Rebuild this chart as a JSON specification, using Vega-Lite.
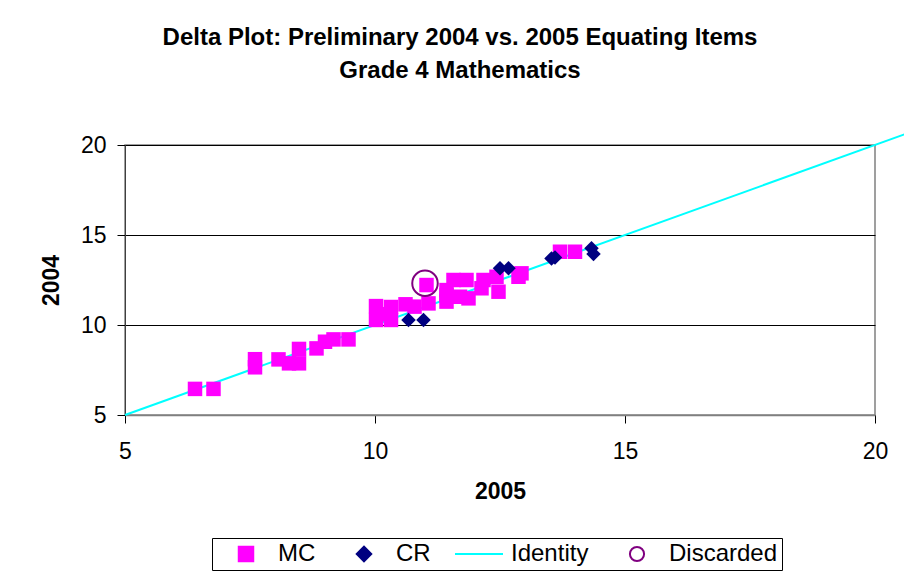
{
  "$schema": "https://vega.github.io/schema/vega-lite/v6.json",
  "width": 750,
  "height": 270,
  "autosize": {"type": "none"},
  "padding": {"left": 125, "top": 145, "right": 29, "bottom": 169},
  "background": "white",
  "config": {
    "font": "Liberation Sans",
    "view": {"stroke": "#808080", "strokeWidth": 1.5},
    "axis": {"labelFont": "Liberation Sans", "titleFont": "Liberation Sans", "labelColor": "black", "titleColor": "black"}
  },
  "title": {
    "text": ["Delta Plot: Preliminary 2004 vs. 2005 Equating Items", "Grade 4 Mathematics"],
    "fontSize": 24,
    "fontWeight": "bold",
    "font": "Liberation Sans",
    "color": "black",
    "lineHeight": 33,
    "anchor": "middle",
    "dx": -40,
    "offset": 47
  },
  "data": {
    "values": [
      {"x2005": 6.4, "y2004": 6.45, "type": "MC"},
      {"x2005": 6.77, "y2004": 6.45, "type": "MC"},
      {"x2005": 7.6, "y2004": 8.1, "type": "MC"},
      {"x2005": 7.6, "y2004": 7.65, "type": "MC"},
      {"x2005": 8.07, "y2004": 8.09, "type": "MC"},
      {"x2005": 8.28, "y2004": 7.87, "type": "MC"},
      {"x2005": 8.48, "y2004": 8.67, "type": "MC"},
      {"x2005": 8.48, "y2004": 7.87, "type": "MC"},
      {"x2005": 8.83, "y2004": 8.7, "type": "MC"},
      {"x2005": 9.0, "y2004": 9.07, "type": "MC"},
      {"x2005": 9.17, "y2004": 9.2, "type": "MC"},
      {"x2005": 9.47, "y2004": 9.2, "type": "MC"},
      {"x2005": 10.02, "y2004": 11.05, "type": "MC"},
      {"x2005": 10.02, "y2004": 10.28, "type": "MC"},
      {"x2005": 10.32, "y2004": 11.0, "type": "MC"},
      {"x2005": 10.32, "y2004": 10.28, "type": "MC"},
      {"x2005": 10.2, "y2004": 10.6, "type": "MC"},
      {"x2005": 10.61, "y2004": 11.15, "type": "MC"},
      {"x2005": 10.79, "y2004": 11.02, "type": "MC"},
      {"x2005": 11.03, "y2004": 12.22, "type": "MC"},
      {"x2005": 11.07, "y2004": 11.2, "type": "MC"},
      {"x2005": 11.43, "y2004": 11.94, "type": "MC"},
      {"x2005": 11.43, "y2004": 11.3, "type": "MC"},
      {"x2005": 11.57, "y2004": 12.5, "type": "MC"},
      {"x2005": 11.83, "y2004": 12.5, "type": "MC"},
      {"x2005": 11.43, "y2004": 11.67, "type": "MC"},
      {"x2005": 11.7, "y2004": 11.57, "type": "MC"},
      {"x2005": 11.87, "y2004": 11.48, "type": "MC"},
      {"x2005": 12.17, "y2004": 12.5, "type": "MC"},
      {"x2005": 12.47, "y2004": 11.85, "type": "MC"},
      {"x2005": 12.43, "y2004": 12.68, "type": "MC"},
      {"x2005": 12.13, "y2004": 12.04, "type": "MC"},
      {"x2005": 12.87, "y2004": 12.68, "type": "MC"},
      {"x2005": 12.93, "y2004": 12.87, "type": "MC"},
      {"x2005": 13.7, "y2004": 14.07, "type": "MC"},
      {"x2005": 14.0, "y2004": 14.07, "type": "MC"},
      {"x2005": 10.67, "y2004": 10.28, "type": "CR"},
      {"x2005": 10.97, "y2004": 10.28, "type": "CR"},
      {"x2005": 12.5, "y2004": 13.15, "type": "CR"},
      {"x2005": 12.67, "y2004": 13.15, "type": "CR"},
      {"x2005": 13.53, "y2004": 13.7, "type": "CR"},
      {"x2005": 13.6, "y2004": 13.75, "type": "CR"},
      {"x2005": 14.33, "y2004": 14.26, "type": "CR"},
      {"x2005": 14.37, "y2004": 13.95, "type": "CR"},
      {"x2005": 11.0, "y2004": 12.32, "type": "Discarded"},
      {"x2005": 5, "y2004": 5, "type": "Identity"},
      {"x2005": 20.6, "y2004": 20.6, "type": "Identity"}
    ]
  },
  "encoding": {
    "x": {
      "field": "x2005", "type": "quantitative", "title": "2005",
      "scale": {"domain": [5, 20], "nice": false, "zero": false},
      "axis": {"values": [5, 10, 15, 20], "grid": false, "labelFontSize": 23, "titleFontSize": 23, "titleFontWeight": "bold", "tickSize": 8, "tickColor": "black", "domainColor": "#808080", "domainWidth": 1.5, "labelPadding": 17, "titlePadding": 17, "labelFlush": false}
    },
    "y": {
      "field": "y2004", "type": "quantitative", "title": "2004",
      "scale": {"domain": [5, 20], "nice": false, "zero": false},
      "axis": {"values": [5, 10, 15, 20], "grid": true, "gridColor": "black", "gridWidth": 1, "gridOpacity": 1, "labelFontSize": 23, "titleFontSize": 23, "titleFontWeight": "bold", "tickSize": 8, "tickColor": "black", "domainColor": "#404040", "labelPadding": 11, "titlePadding": 17, "labelFlush": false}
    },
    "color": {
      "field": "type", "type": "nominal", "title": null,
      "scale": {"domain": ["MC", "CR", "Identity", "Discarded"], "range": ["#FF00FF", "#000080", "#00FFFF", "#800080"]},
      "legend": {
        "orient": "none", "legendX": 87, "legendY": 393,
        "direction": "horizontal", "columns": 4,
        "strokeColor": "black", "fillColor": "white", "padding": 4,
        "labelFontSize": 24, "labelFont": "Liberation Sans", "labelColor": "black",
        "symbolSize": 1024, "symbolOffset": 18, "labelOffset": 20, "columnPadding": 18, "symbolOpacity": 1,
        "encode": {
          "symbols": {
            "update": {
              "fill": {"signal": "datum.value === 'MC' ? '#FF00FF' : datum.value === 'CR' ? '#000080' : 'white'"},
              "fillOpacity": {"signal": "datum.value === 'MC' || datum.value === 'CR' ? 1 : 0"},
              "stroke": {"signal": "datum.value === 'Identity' ? '#00FFFF' : datum.value === 'Discarded' ? '#800080' : 'transparent'"},
              "strokeWidth": {"value": 2},
              "opacity": {"value": 1},
              "size": {"signal": "datum.value === 'Identity' ? 2304 : datum.value === 'Discarded' ? 200 : 210"},
              "shape": {"signal": "datum.value === 'MC' ? 'square' : datum.value === 'CR' ? 'diamond' : datum.value === 'Identity' ? 'stroke' : 'circle'"}
            }
          }
        }
      }
    }
  },
  "layer": [
    {
      "transform": [{"filter": "datum.type === 'Identity'"}],
      "mark": {"type": "line", "strokeWidth": 2, "clip": false}
    },
    {
      "transform": [{"filter": "datum.type === 'MC' || datum.type === 'CR'"}],
      "mark": {"type": "point", "filled": true, "opacity": 1, "size": 210},
      "encoding": {
        "shape": {"field": "type", "type": "nominal", "scale": {"domain": ["MC", "CR", "Identity", "Discarded"], "range": ["square", "diamond", "stroke", "circle"]}, "legend": null}
      }
    },
    {
      "transform": [{"filter": "datum.type === 'Discarded'"}],
      "mark": {"type": "point", "shape": "circle", "filled": false, "opacity": 1, "size": 650, "strokeWidth": 2}
    }
  ]
}
